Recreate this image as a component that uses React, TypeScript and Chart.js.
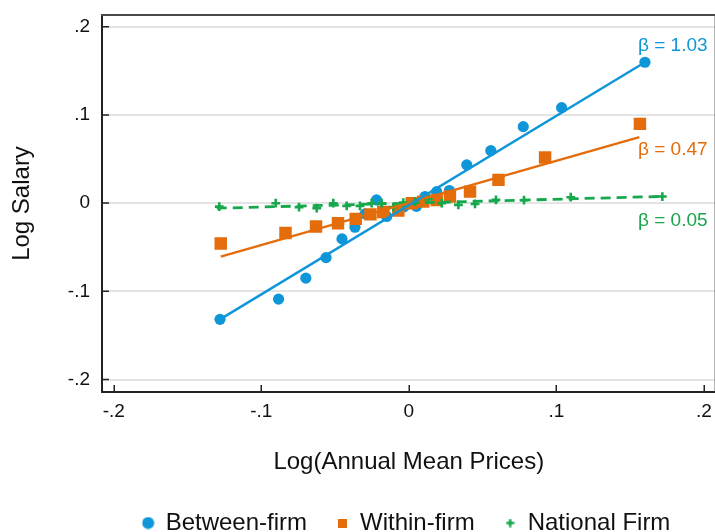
import React, { useEffect, useRef } from 'react';
import { Chart, registerables } from 'chart.js';

Chart.register(...registerables);

const FONT = "'Liberation Sans', Arial, Helvetica, sans-serif";
const BLUE = '#0E96D8';
const ORANGE = '#E46C0A';
const GREEN = '#17A84C';

// ---------- data ----------
const seriesNames = ['Between-firm', 'Within-firm', 'National Firm'];

const betweenX = [-0.128, -0.0883, -0.0698, -0.0561, -0.0453, -0.0365, -0.0297, -0.0219, -0.015, -0.0033, 0.0052, 0.011, 0.0189, 0.0275, 0.0393, 0.0556, 0.0776, 0.1036, 0.1601];
const betweenY = [-0.1318, -0.1089, -0.0851, -0.0618, -0.0406, -0.0273, -0.0122, 0.0036, -0.0151, -0.0043, -0.0037, 0.0074, 0.013, 0.0142, 0.0433, 0.0595, 0.0867, 0.1082, 0.1597];

const withinX = [-0.1275, -0.0836, -0.0629, -0.048, -0.036, -0.026, -0.0173, -0.0071, 0.002, 0.0098, 0.0189, 0.0279, 0.0415, 0.0608, 0.0924, 0.1567];
const withinY = [-0.0457, -0.0338, -0.0266, -0.0228, -0.0179, -0.0128, -0.01, -0.0085, -0.0001, 0.0017, 0.0036, 0.0074, 0.013, 0.0263, 0.0518, 0.0898];

const nationalX = [-0.1285, -0.0902, -0.0744, -0.0624, -0.0512, -0.0421, -0.0331, -0.0252, -0.0184, -0.0105, -0.0037, 0.0042, 0.0132, 0.0223, 0.0336, 0.0449, 0.0591, 0.0781, 0.1098, 0.1719];
const nationalY = [-0.004, -0.0001, -0.0046, -0.0058, -0.0001, -0.0032, -0.0032, -0.0001, -0.0001, -0.0046, 0.0005, 0.0017, 0.0044, -0.0001, -0.002, -0.0009, 0.0036, 0.0033, 0.0067, 0.0074];

// fitted lines (end points)
const betweenFitX = [-0.128, 0.1601];
const betweenFitY = [-0.1318, 0.1597];
const withinFitX = [-0.1275, 0.1563];
const withinFitY = [-0.0606, 0.0747];
const nationalFitX = [-0.1302, 0.1723];
const nationalFitY = [-0.0058, 0.0076];

const xTicks = [-0.2, -0.1, 0, 0.1, 0.2];
const xTickLabels = ['-.2', '-.1', '0', '.1', '.2'];
const yTicks = [-0.2, -0.1, 0, 0.1, 0.2];
const yTickLabels = ['-.2', '-.1', '0', '.1', '.2'];

const betaLabels = ['β = 1.03', 'β = 0.47', 'β = 0.05'];
// annotation anchors in data units
const betaAnchorX = [0.1554, 0.1554, 0.1554];
const betaAnchorY = [0.1782, 0.06, -0.02];

const xTitle = 'Log(Annual Mean Prices)';
const yTitle = 'Log Salary';

// ---------- helpers ----------
const pts = (xs: number[], ys: number[]) => xs.map((x, i) => ({ x, y: ys[i] }));
const COLORS = [BLUE, ORANGE, GREEN];

function makeMarker(kind: number): HTMLCanvasElement {
  const c = document.createElement('canvas');
  const ctx = c.getContext('2d')!;
  if (kind === 0) {
    c.width = 13; c.height = 13;
    ctx.fillStyle = BLUE;
    ctx.beginPath();
    ctx.arc(6.5, 6.5, 6, 0, Math.PI * 2);
    ctx.fill();
  } else if (kind === 1) {
    c.width = 9; c.height = 9;
    ctx.fillStyle = ORANGE;
    ctx.fillRect(0, 0, 9, 9);
  } else {
    c.width = 9; c.height = 9;
    ctx.strokeStyle = GREEN;
    ctx.lineWidth = 2.5;
    ctx.beginPath();
    ctx.moveTo(4.5, 0.5); ctx.lineTo(4.5, 8.5);
    ctx.moveTo(0.5, 4.5); ctx.lineTo(8.5, 4.5);
    ctx.stroke();
  }
  return c;
}

const framePlugin = {
  id: 'frameTicks',
  beforeDatasetsDraw(chart: any) {
    const { ctx, chartArea: a, scales } = chart;
    ctx.save();
    ctx.strokeStyle = '#4a4a4a';
    ctx.lineWidth = 2;
    ctx.beginPath();
    ctx.moveTo(a.left - 1, a.top);
    ctx.lineTo(a.right + 1, a.top);
    ctx.moveTo(a.right, a.top);
    ctx.lineTo(a.right, a.bottom);
    ctx.stroke();
    ctx.strokeStyle = '#222';
    ctx.lineWidth = 1.5;
    ctx.beginPath();
    xTicks.forEach((v) => {
      const px = Math.round(scales.x.getPixelForValue(v)) + 0.25;
      ctx.moveTo(px, a.bottom);
      ctx.lineTo(px, a.bottom - 7);
    });
    yTicks.forEach((v) => {
      const py = scales.y.getPixelForValue(v);
      ctx.moveTo(a.left, py);
      ctx.lineTo(a.left + 7, py);
    });
    ctx.stroke();
    ctx.restore();
  },
  afterDatasetsDraw(chart: any) {
    const { ctx, scales } = chart;
    ctx.save();
    ctx.font = `19px ${FONT}`;
    ctx.textAlign = 'left';
    ctx.textBaseline = 'middle';
    betaLabels.forEach((t, i) => {
      ctx.fillStyle = COLORS[i];
      ctx.fillText(t, scales.x.getPixelForValue(betaAnchorX[i]), scales.y.getPixelForValue(betaAnchorY[i]));
    });
    ctx.restore();
  },
};

export default function App() {
  const ref = useRef<HTMLCanvasElement>(null);

  useEffect(() => {
    const canvas = ref.current;
    if (!canvas) return;
    const markers = [makeMarker(0), makeMarker(1), makeMarker(2)];

    const chart = new Chart(canvas, {
      type: 'scatter',
      data: {
        datasets: [
          {
            label: seriesNames[0] + ' fit',
            data: pts(betweenFitX, betweenFitY),
            showLine: true,
            borderColor: BLUE,
            borderWidth: 2.4,
            pointRadius: 0,
            order: 1,
          },
          {
            label: seriesNames[1] + ' fit',
            data: pts(withinFitX, withinFitY),
            showLine: true,
            borderColor: ORANGE,
            borderWidth: 2.4,
            pointRadius: 0,
            order: 2,
          },
          {
            label: seriesNames[2] + ' fit',
            data: pts(nationalFitX, nationalFitY),
            showLine: true,
            borderColor: GREEN,
            borderWidth: 2.8,
            borderDash: [10, 6],
            pointRadius: 0,
            order: 3,
          },
          {
            label: seriesNames[2],
            data: pts(nationalX, nationalY),
            pointStyle: 'cross',
            pointRadius: 4.4,
            borderColor: GREEN,
            backgroundColor: GREEN,
            borderWidth: 2.6,
            order: 4,
          },
          {
            label: seriesNames[1],
            data: pts(withinX, withinY),
            pointStyle: 'rect',
            pointRadius: 8.8,
            backgroundColor: ORANGE,
            borderWidth: 0,
            order: 5,
          },
          {
            label: seriesNames[0],
            data: pts(betweenX, betweenY),
            pointStyle: 'circle',
            pointRadius: 5.6,
            backgroundColor: BLUE,
            borderWidth: 0,
            order: 6,
          },
        ],
      },
      options: {
        responsive: false,
        animation: false,
        devicePixelRatio: 1,
        events: [],
        layout: { padding: { top: 15, left: 0, right: 0, bottom: 0 } },
        scales: {
          x: {
            type: 'linear',
            position: 'bottom',
            min: -0.208,
            max: 0.208,
            afterBuildTicks: (s: any) => { s.ticks = xTicks.map((v) => ({ value: v })); },
            afterFit: (s: any) => { s.height = 89; s.paddingLeft = 0; s.paddingRight = 0; },
            grid: { display: true, drawOnChartArea: false, drawTicks: false },
            border: { display: true, color: '#222', width: 2 },
            ticks: {
              padding: 8,
              color: '#111',
              font: { family: FONT, size: 19 },
              maxRotation: 0,
              autoSkip: false,
              callback: (_v: any, i: number) => xTickLabels[i],
            },
            title: {
              display: true,
              text: xTitle,
              color: '#111',
              font: { family: FONT, size: 24 },
              padding: { top: 0, bottom: 4.6 },
            },
          },
          y: {
            type: 'linear',
            position: 'left',
            min: -0.21417,
            max: 0.21326,
            afterBuildTicks: (s: any) => { s.ticks = yTicks.map((v) => ({ value: v })); },
            afterFit: (s: any) => { s.width = 102; s.paddingTop = 0; s.paddingBottom = 0; },
            grid: { display: true, color: '#e4e4e4', lineWidth: 2, drawTicks: false },
            border: { display: true, color: '#222', width: 2 },
            ticks: {
              padding: 12,
              color: '#111',
              font: { family: FONT, size: 19 },
              autoSkip: false,
              callback: (_v: any, i: number) => yTickLabels[i],
            },
            title: {
              display: true,
              text: yTitle,
              color: '#111',
              font: { family: FONT, size: 24 },
              padding: { top: 7.6, bottom: 0 },
            },
          },
          y2: {
            type: 'linear',
            position: 'right',
            display: true,
            afterFit: (s: any) => { s.width = 97.4; s.paddingTop = 0; s.paddingBottom = 0; },
            grid: { display: false, drawTicks: false },
            border: { display: false },
            ticks: { display: false },
          },
        },
        plugins: {
          tooltip: { enabled: false },
          legend: {
            display: true,
            position: 'bottom',
            align: 'center',
            labels: {
              usePointStyle: true,
              boxWidth: 11,
              padding: 30,
              color: '#111',
              font: { family: FONT, size: 24 },
              generateLabels: () =>
                seriesNames.map((name, i) => ({
                  text: name,
                  pointStyle: markers[i] as any,
                  fillStyle: COLORS[i],
                  strokeStyle: COLORS[i],
                  lineWidth: 0,
                  hidden: false,
                  datasetIndex: 5 - i,
                  fontColor: '#111',
                })),
            },
          },
        },
      } as any,
      plugins: [framePlugin],
    });
    return () => chart.destroy();
  }, []);

  return (
    <div
      style={{
        position: 'absolute',
        left: 0,
        top: 0,
        width: 715,
        height: 532,
        overflow: 'hidden',
        background: '#fff',
      }}
    >
      <canvas ref={ref} width={813} height={545} style={{ display: 'block', width: 813, height: 545 }} />
    </div>
  );
}
